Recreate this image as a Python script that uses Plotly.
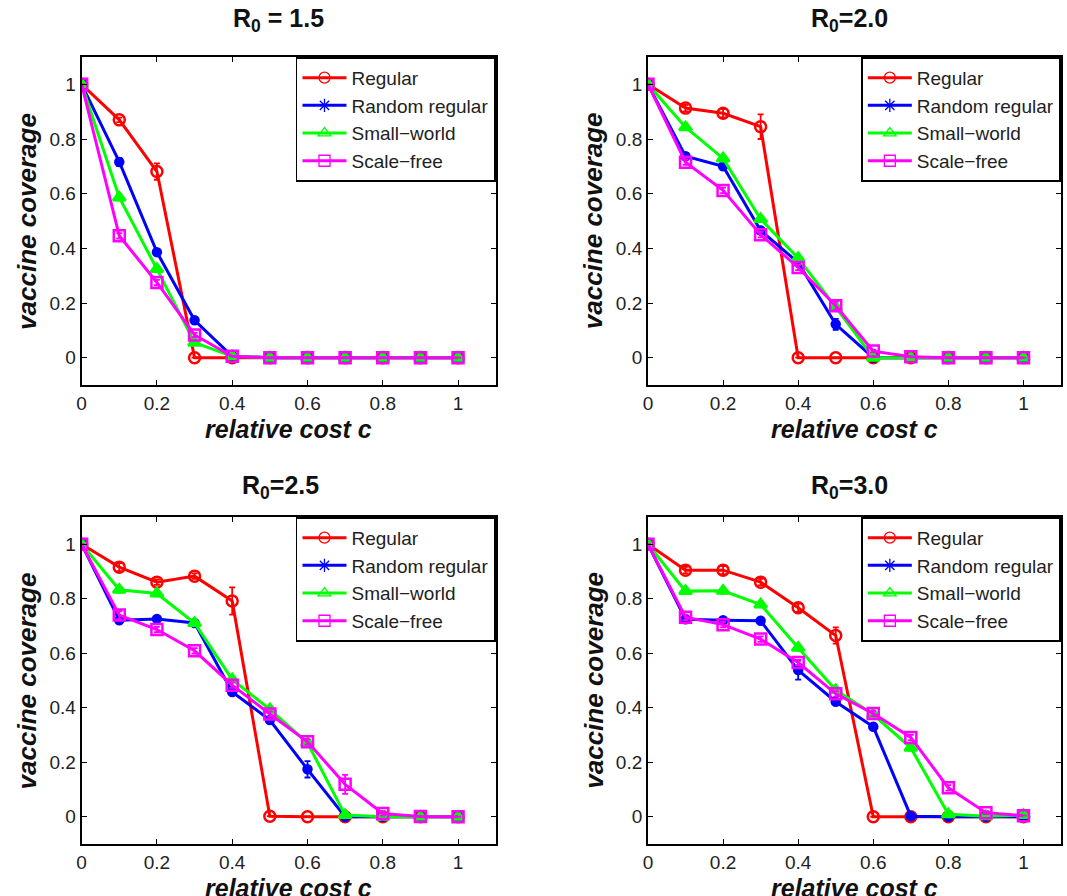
import plotly.graph_objects as go

# ---------------- data ----------------
cost = [0.0, 0.1, 0.2, 0.3, 0.4, 0.5, 0.6, 0.7, 0.8, 0.9, 1.0]
series_names = ["Regular", "Random regular", "Small\u2212world", "Scale\u2212free"]
titles = ["R<sub>0</sub> = 1.5", "R<sub>0</sub>=2.0", "R<sub>0</sub>=2.5", "R<sub>0</sub>=3.0"]
x_tick_vals = [0, 0.2, 0.4, 0.6, 0.8, 1]
y_tick_vals = [0, 0.2, 0.4, 0.6, 0.8, 1]

# R0 = 1.5
r15_regular = [1.0, 0.870, 0.681, 0.0, 0.0, 0.0, 0.0, 0.0, 0.0, 0.0, 0.0]
r15_random = [1.0, 0.716, 0.386, 0.137, 0.005, 0.0, 0.0, 0.0, 0.0, 0.0, 0.0]
r15_small = [1.0, 0.586, 0.324, 0.055, 0.005, 0.0, 0.0, 0.0, 0.0, 0.0, 0.0]
r15_scale = [1.0, 0.446, 0.275, 0.083, 0.005, 0.0, 0.0, 0.0, 0.0, 0.0, 0.0]
r15_regular_err = [0, 0.008, 0.03, 0, 0, 0, 0, 0, 0, 0, 0]
r15_random_err = [0, 0.015, 0.012, 0.008, 0, 0, 0, 0, 0, 0, 0]
r15_small_err = [0, 0.01, 0.01, 0.005, 0, 0, 0, 0, 0, 0, 0]
r15_scale_err = [0, 0.01, 0.01, 0.008, 0, 0, 0, 0, 0, 0, 0]

# R0 = 2.0
r20_regular = [1.0, 0.913, 0.894, 0.845, 0.0, 0.0, 0.0, 0.0, 0.0, 0.0, 0.0]
r20_random = [1.0, 0.737, 0.700, 0.465, 0.348, 0.122, 0.0, 0.0, 0.0, 0.0, 0.0]
r20_small = [1.0, 0.843, 0.729, 0.507, 0.364, 0.185, 0.0, 0.0, 0.0, 0.0, 0.0]
r20_scale = [1.0, 0.715, 0.612, 0.450, 0.330, 0.190, 0.024, 0.003, 0.0, 0.0, 0.0]
r20_regular_err = [0, 0.012, 0.015, 0.045, 0, 0, 0, 0, 0, 0, 0]
r20_random_err = [0, 0.01, 0.01, 0.01, 0.01, 0.02, 0, 0, 0, 0, 0]
r20_small_err = [0, 0.01, 0.01, 0.01, 0.01, 0.01, 0, 0, 0, 0, 0]
r20_scale_err = [0, 0.01, 0.01, 0.01, 0.01, 0.015, 0.005, 0, 0, 0, 0]

# R0 = 2.5
r25_regular = [1.0, 0.916, 0.861, 0.883, 0.792, 0.002, 0.0, 0.0, 0.0, 0.0, 0.0]
r25_random = [1.0, 0.721, 0.726, 0.711, 0.458, 0.355, 0.174, 0.0, 0.0, 0.0, 0.0]
r25_small = [1.0, 0.833, 0.819, 0.711, 0.504, 0.394, 0.271, 0.006, 0.0, 0.0, 0.0]
r25_scale = [1.0, 0.740, 0.687, 0.609, 0.483, 0.377, 0.275, 0.119, 0.012, 0.001, 0.0]
r25_regular_err = [0, 0.015, 0.01, 0.01, 0.05, 0, 0, 0, 0, 0, 0]
r25_random_err = [0, 0.01, 0.01, 0.01, 0.01, 0.01, 0.03, 0, 0, 0, 0]
r25_small_err = [0, 0.01, 0.01, 0.01, 0.01, 0.01, 0.01, 0, 0, 0, 0]
r25_scale_err = [0, 0.015, 0.01, 0.01, 0.01, 0.01, 0.01, 0.035, 0.008, 0, 0]

# R0 = 3.0
r30_regular = [1.0, 0.905, 0.905, 0.861, 0.767, 0.665, 0.0, 0.0, 0.0, 0.0, 0.0]
r30_random = [1.0, 0.725, 0.721, 0.719, 0.538, 0.422, 0.330, 0.002, 0.0, 0.0, 0.0]
r30_small = [1.0, 0.828, 0.829, 0.779, 0.620, 0.465, 0.375, 0.253, 0.009, 0.002, 0.006]
r30_scale = [1.0, 0.732, 0.705, 0.652, 0.566, 0.451, 0.379, 0.291, 0.106, 0.015, 0.004]
r30_regular_err = [0, 0.012, 0.015, 0.012, 0.015, 0.03, 0, 0, 0, 0, 0]
r30_random_err = [0, 0.008, 0.008, 0.008, 0.035, 0.01, 0.01, 0, 0, 0, 0]
r30_small_err = [0, 0.01, 0.01, 0.01, 0.01, 0.01, 0.01, 0.01, 0, 0, 0]
r30_scale_err = [0, 0.01, 0.01, 0.01, 0.01, 0.01, 0.01, 0.01, 0.01, 0.005, 0]

panels = [
    ([r15_regular, r15_random, r15_small, r15_scale],
     [r15_regular_err, r15_random_err, r15_small_err, r15_scale_err]),
    ([r20_regular, r20_random, r20_small, r20_scale],
     [r20_regular_err, r20_random_err, r20_small_err, r20_scale_err]),
    ([r25_regular, r25_random, r25_small, r25_scale],
     [r25_regular_err, r25_random_err, r25_small_err, r25_scale_err]),
    ([r30_regular, r30_random, r30_small, r30_scale],
     [r30_regular_err, r30_random_err, r30_small_err, r30_scale_err]),
]

# ---------------- styles ----------------
W, H = 1067, 896
colors = ["#ff0000", "#0000ff", "#00ff00", "#ff00ff"]
data_symbols = ["circle-open", "circle", "triangle-up", "square-open"]
data_sizes = [11, 8, 11, 11]
legend_symbols = ["circle-open", "asterisk-open", "triangle-up-open", "square-open"]
FONT = "Liberation Sans, Arial, Helvetica, sans-serif"

# axes rectangles in pixels: (left, right, top, bottom)
rects = [(77, 493, 57, 385), (646, 1061, 57, 385),
         (77, 493, 517, 844), (646, 1061, 517, 844)]
title_pos = [(275, 20), (848, 20), (277, 487), (848, 487)]

fig = go.Figure()
annotations = []
layout = dict(
    width=W, height=H, margin=dict(l=0, r=0, t=0, b=0),
    paper_bgcolor="white", plot_bgcolor="white",
    font=dict(family=FONT, color="#222222"),
    showlegend=True,
)

for p, ((vals, errs), (l, r, t, b)) in enumerate(zip(panels, rects)):
    k = "" if p == 0 else str(p + 1)
    xa, ya = "x" + k, "y" + k
    leg = "legend" + k
    for s in range(4):
        fig.add_trace(go.Scatter(
            x=cost, y=vals[s], xaxis=xa, yaxis=ya, mode="lines+markers",
            line=dict(color=colors[s], width=3),
            marker=dict(symbol=data_symbols[s], size=data_sizes[s], color=colors[s],
                        line=dict(color=colors[s], width=2.5)),
            error_y=dict(type="data", array=errs[s], visible=True, color=colors[s],
                         thickness=1.8, width=3),
            showlegend=False, hoverinfo="skip",
        ))
    for s in range(4):
        fig.add_trace(go.Scatter(
            x=[None], y=[None], xaxis=xa, yaxis=ya, mode="lines+markers",
            name=series_names[s], legend=leg,
            line=dict(color=colors[s], width=3),
            marker=dict(symbol=legend_symbols[s], size=11, color=colors[s],
                        line=dict(color=colors[s], width=1.3)),
        ))
    dom_x = [l / W, r / W]
    dom_y = [1 - b / H, 1 - t / H]
    axis_common = dict(
        showline=True, linecolor="black", linewidth=1.8, mirror="ticks",
        ticks="inside", ticklen=5, tickwidth=1, tickcolor="black",
        showgrid=False, zeroline=False,
        tickfont=dict(family=FONT, size=19, color="#222222"),
    )
    layout["xaxis" + k] = dict(axis_common, domain=dom_x, range=[0, 1.1],
                               tickvals=x_tick_vals, anchor=ya)
    layout["yaxis" + k] = dict(axis_common, domain=dom_y, range=[-0.1, 1.1],
                               tickvals=y_tick_vals, anchor=xa)
    layout[leg] = dict(
        x=r / W, y=1 - t / H, xanchor="right", yanchor="top",
        bgcolor="white", bordercolor="black", borderwidth=1.8,
        font=dict(family=FONT, size=19, color="#222222"),
        itemwidth=44, tracegroupgap=0, entrywidth=210, entrywidthmode="pixels",
    )
    tx, ty = title_pos[p]
    annotations.append(dict(text="<b>" + titles[p] + "</b>", x=tx / W, y=1 - ty / H,
                            xref="paper", yref="paper", showarrow=False,
                            xanchor="center", yanchor="middle",
                            font=dict(family=FONT, size=25, color="#111111")))
    annotations.append(dict(text="<b><i>relative cost c</i></b>", x=(l + r) / 2 / W,
                            y=1 - (b + 44) / H, xref="paper", yref="paper",
                            showarrow=False, xanchor="center", yanchor="middle",
                            font=dict(family=FONT, size=25, color="#111111")))
    annotations.append(dict(text="<b><i>vaccine coverage</i></b>", x=(l - 55) / W,
                            y=1 - (t + b) / 2 / H, xref="paper", yref="paper",
                            showarrow=False, textangle=-90,
                            xanchor="center", yanchor="middle",
                            font=dict(family=FONT, size=26, color="#111111")))

layout["annotations"] = annotations
fig.update_layout(**layout)
fig.write_html("out.html")
